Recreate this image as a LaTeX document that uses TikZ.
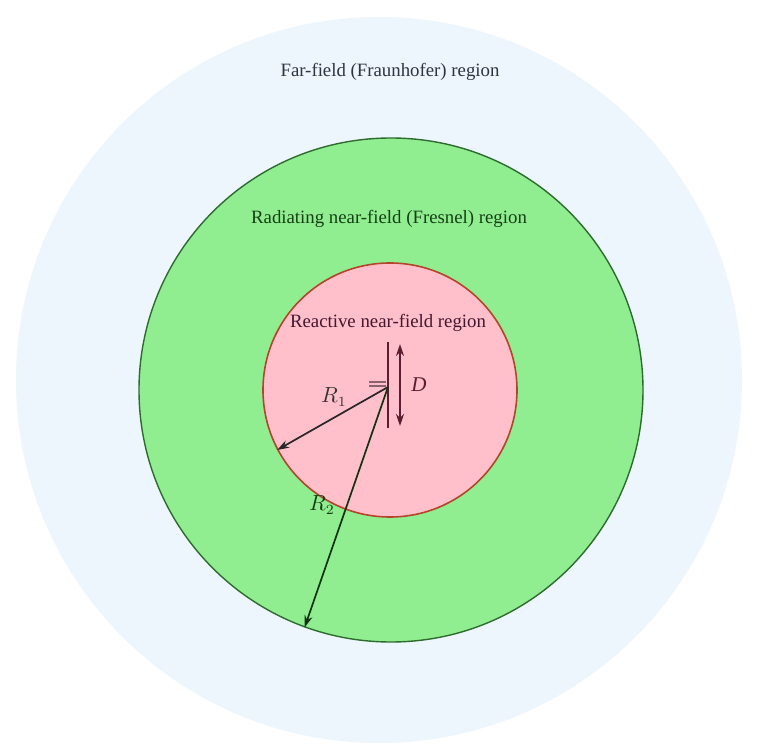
\documentclass[tikz,border=0pt]{standalone}
\usepackage{fontspec}
\setmainfont{Liberation Serif}
\usetikzlibrary{arrows.meta}
\definecolor{farbg}{HTML}{EDF5FD}
\definecolor{nearbg}{HTML}{90EE90}
\definecolor{nearline}{HTML}{2E6B2E}
\definecolor{reactbg}{HTML}{FFC0CB}
\definecolor{reactline}{HTML}{B5452A}
\definecolor{fartext}{HTML}{2F3440}
\definecolor{neartext}{HTML}{163F16}
\definecolor{reacttext}{HTML}{42182E}
\definecolor{antcol}{HTML}{5A1E2E}
\tikzset{
  region/.style={circle, inner sep=0pt},
  lbl/.style={font=\fontsize{9.4}{11}\selectfont, inner sep=0pt},
  radarrow/.style={-{Stealth[length=6pt,width=4pt]}, line width=0.85pt},
}
\begin{document}
\begin{tikzpicture}[x=0.5pt,y=-0.5pt]
\useasboundingbox (0,0) rectangle (757,749);
\fill[white] (0,0) rectangle (757,749);
\node[region, fill=farbg, minimum size=726pt*0.5] (far) at (379,380) {};
\node[region, fill=nearbg, draw=nearline, line width=0.7pt, minimum size=504pt*0.5] (near) at (391,390) {};
\node[region, fill=reactbg, draw=reactline, line width=0.8pt, minimum size=254pt*0.5] (react) at (390,390) {};
\node[lbl, text=fartext] (farlbl) at (390,72) {Far-field (Fraunhofer) region};
\node[lbl, text=neartext] (nearlbl) at (389,219) {Radiating near-field (Fresnel) region};
\node[lbl, text=reacttext] (reactlbl) at (388,323) {Reactive near-field region};
% antenna
\coordinate (feed) at (388,387);
\coordinate (anttop) at (388,342);
\coordinate (antbot) at (388,428);
\draw[antcol, line width=0.9pt] (anttop) -- (antbot);
\coordinate (fa1) at (369,382);
\coordinate (fb1) at (386,382);
\coordinate (fa2) at (369,386);
\coordinate (fb2) at (386,386);
\draw[antcol!70, line width=0.8pt] (fa1) -- (fb1) (fa2) -- (fb2);
% D arrow
\coordinate (dtop) at (400,344);
\coordinate (dbot) at (400,426);
\draw[antcol, line width=0.9pt, {Stealth[length=6pt,width=4pt]}-{Stealth[length=6pt,width=4pt]}] (dtop) -- (dbot);
\node[lbl, font=\fontsize{10.5}{12}\itshape, text=antcol] (dlbl) at (419,385) {D};
% radii
\draw[radarrow, black!85] (feed) -- (react.208);
\draw[radarrow, neartext!80!black] (feed) -- (near.250);
\node[lbl, font=\fontsize{10.5}{12}\selectfont, text=black!80] (r1lbl) at (334,397) {$R_1$};
\node[lbl, font=\fontsize{10.5}{12}\selectfont, text=neartext] (r2lbl) at (322,505) {$R_2$};
\end{tikzpicture}
\end{document}
